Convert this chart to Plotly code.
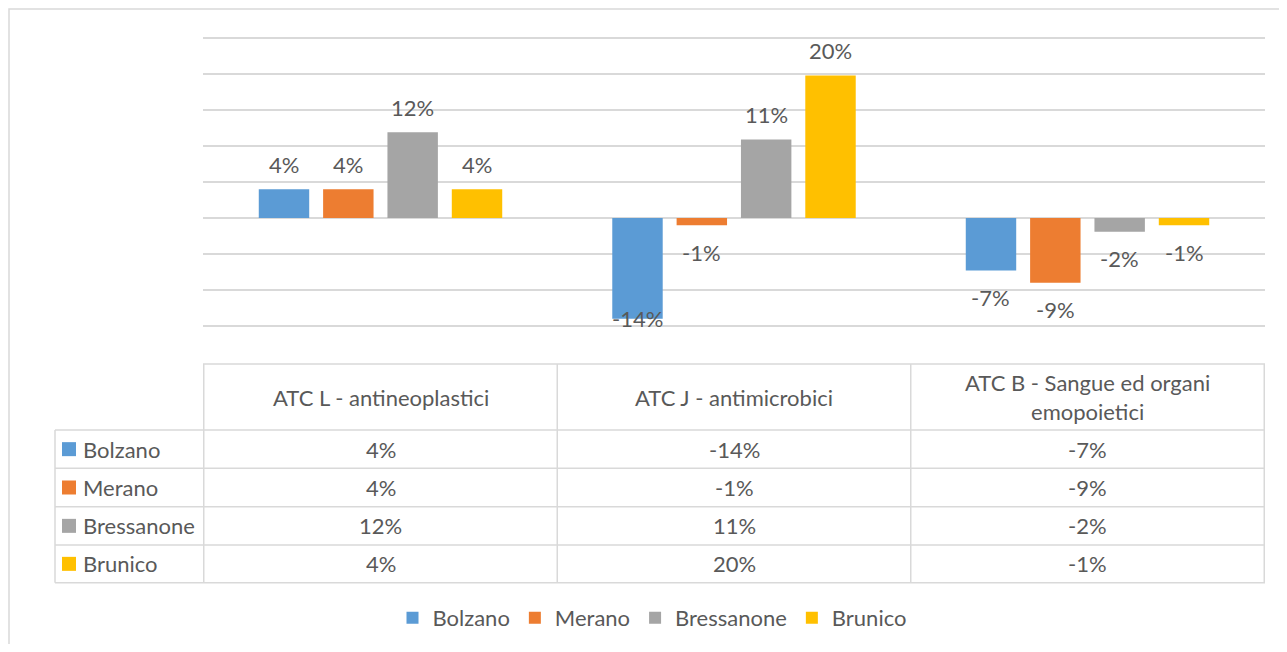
import plotly.graph_objects as go

categories = ["ATC L - antineoplastici", "ATC J - antimicrobici", "ATC B - Sangue ed organi emopoietici"]
header_labels = ["ATC L - antineoplastici", "ATC J - antimicrobici", "ATC B - Sangue ed organi<br>emopoietici"]
series_names = ["Bolzano", "Merano", "Bressanone", "Brunico"]
bolzano = [0.040, -0.140, -0.073]
merano = [0.040, -0.010, -0.090]
bressanone = [0.119, 0.109, -0.019]
brunico = [0.040, 0.198, -0.010]
series_values = [bolzano, merano, bressanone, brunico]
colors = ["#5B9BD5", "#ED7D31", "#A5A5A5", "#FFC000"]

OFF = 8  # page body margin
W, H = 1271, 636
GRID_PAD = 2  # px beyond first/last gridline so plotly keeps them
L, R = 195, 14
T, B = 30 - GRID_PAD, 318 - GRID_PAD
PX_PER_UNIT = 720.0  # 5% step = 36 px
Y_RANGE = [-0.15 - GRID_PAD / PX_PER_UNIT, 0.25 + GRID_PAD / PX_PER_UNIT]
BARGAP = 0.272
GROUPGAP = 0.216
TXT = "#595959"
LINE = "#D9D9D9"
FONT = "Lato"
FS = 22

plot_w = W - L - R
plot_h = H - T - B
slot = plot_w / len(categories) * (1 - BARGAP) / len(series_names)


# screen pixel -> paper coordinate
def xp(px):
    return (px - OFF - L) / plot_w


def yp(py):
    return (H - B - (py - OFF)) / plot_h


fig = go.Figure()
annotations = []
for i, (name, vals, col) in enumerate(zip(series_names, series_values, colors)):
    fig.add_trace(go.Bar(name=name, x=categories, y=vals, marker_color=col,
                         marker_line_width=0))
    # data labels, Excel "outside end"
    for cat, v in zip(categories, vals):
        off = 25 if v >= 0 else -27
        ly = v + off / PX_PER_UNIT
        ly = max(ly, -0.14)
        annotations.append(dict(x=cat, y=ly, xref="x", yref="y", text=f"{v:.0%}",
                                showarrow=False, xshift=(i - 1.5) * slot, yanchor="middle",
                                font=dict(size=FS, color=TXT, family=FONT)))

# data table
row_tops = [430, 468.3, 506.7, 545, 582.7]
header_top = 364
lw = dict(color=LINE, width=1.5)
shapes = []
for ry in row_tops:
    shapes.append(dict(type="line", xref="paper", yref="paper", x0=xp(55), x1=xp(1265),
                       y0=yp(ry), y1=yp(ry), line=lw))
shapes.append(dict(type="line", xref="paper", yref="paper", x0=xp(203), x1=xp(1265),
                   y0=yp(header_top), y1=yp(header_top), line=lw))
for k in range(len(categories) + 1):
    shapes.append(dict(type="line", xref="x", yref="paper", x0=k - 0.5, x1=k - 0.5,
                       y0=yp(header_top), y1=yp(row_tops[-1]), line=lw))
shapes.append(dict(type="line", xref="paper", yref="paper", x0=xp(55), x1=xp(55),
                   y0=yp(row_tops[0]), y1=yp(row_tops[-1]), line=lw))

for cat, lab in zip(categories, header_labels):
    annotations.append(dict(x=cat, y=yp((header_top + row_tops[0]) / 2), xref="x", yref="paper",
                            text=lab, showarrow=False, align="center", yanchor="middle",
                            font=dict(size=FS, color=TXT, family=FONT)))

for r, (name, vals, col) in enumerate(zip(series_names, series_values, colors)):
    cy = (row_tops[r] + row_tops[r + 1]) / 2
    shapes.append(dict(type="rect", xref="paper", yref="paper", x0=xp(62), x1=xp(76),
                       y0=yp(cy - 7), y1=yp(cy + 7), fillcolor=col, line=dict(width=0)))
    annotations.append(dict(x=xp(81), y=yp(cy), xref="paper", yref="paper", text=name,
                            xanchor="left", yanchor="middle", showarrow=False,
                            font=dict(size=FS, color=TXT, family=FONT)))
    for cat, v in zip(categories, vals):
        annotations.append(dict(x=cat, y=yp(cy), xref="x", yref="paper", text=f"{v:.0%}",
                                showarrow=False, yanchor="middle",
                                font=dict(size=FS, color=TXT, family=FONT)))

# outer chart border
shapes.append(dict(type="rect", xref="paper", yref="paper", x0=xp(9), x1=xp(1285),
                   y0=yp(9), y1=yp(650), line=lw, layer="below"))

fig.update_layout(
    width=W, height=H,
    margin=dict(l=L, r=R, t=T, b=B, autoexpand=False),
    paper_bgcolor="white", plot_bgcolor="white",
    barmode="group", bargap=BARGAP, bargroupgap=GROUPGAP,
    font=dict(family=FONT, color=TXT, size=FS),
    xaxis=dict(showticklabels=False, showgrid=False, zeroline=False, showline=False, ticks=""),
    yaxis=dict(range=Y_RANGE, dtick=0.05, tick0=0, showticklabels=False, gridcolor=LINE,
               gridwidth=1.5, zeroline=True, zerolinecolor=LINE, zerolinewidth=1.5, ticks=""),
    legend=dict(orientation="h", x=xp(652), xanchor="center",
                yref="container", y=(H - (618 - OFF)) / H, yanchor="middle",
                font=dict(size=FS, color=TXT, family=FONT), itemwidth=30),
    shapes=shapes,
    annotations=annotations,
    showlegend=True,
)

fig.write_html("out.html")
